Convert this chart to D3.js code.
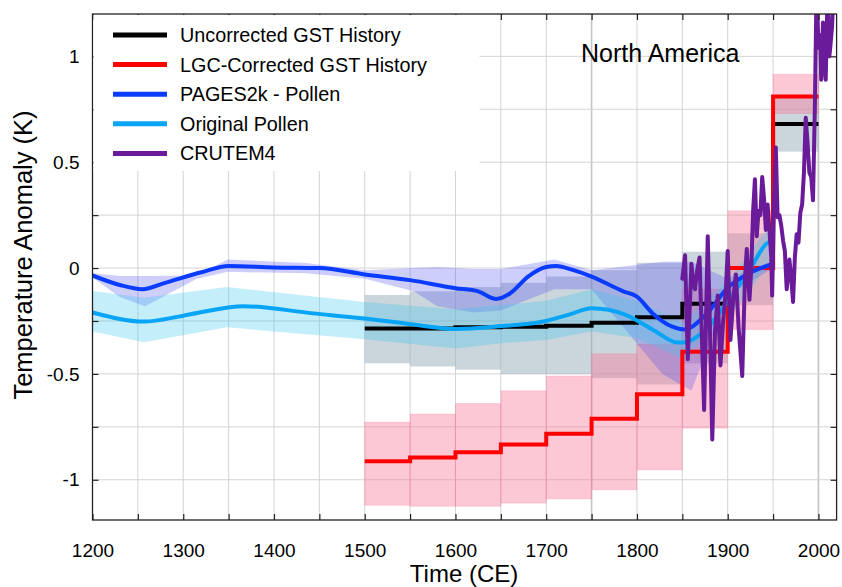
<!DOCTYPE html>
<html>
<head>
<meta charset="utf-8">
<script src="https://cdn.jsdelivr.net/npm/d3@7"></script>
<style>
  body { margin: 0; background: #fff; }
  svg { font-family: "Liberation Sans", Arial, Helvetica, sans-serif; }
  .grid line { stroke: #d4d4d4; stroke-width: 1; }
  .axis text { font-size: 19px; fill: #000; }
  .axis line { stroke: #222; stroke-width: 1.2; }
</style>
</head>
<body>
<div id="chart"></div>
<script>
// ---------------- data ----------------
// 50-year GST history steps
let periodStart = [1500, 1550, 1600, 1650, 1700, 1750, 1800, 1850, 1900, 1950];
let uncorrected = [-0.285, -0.285, -0.28, -0.277, -0.272, -0.258, -0.232, -0.168, 0.0, 0.68];
let uncorrectedLo = [-0.45, -0.465, -0.48, -0.5, -0.5, -0.52, -0.55, -0.45, -0.175, 0.55];
let uncorrectedHi = [-0.127, -0.11, -0.09, -0.07, -0.04, -0.01, 0.025, 0.077, 0.164, 0.816];
let corrected = [-0.913, -0.895, -0.87, -0.833, -0.783, -0.712, -0.596, -0.395, 0.0, 0.81];
let correctedLo = [-1.12, -1.125, -1.125, -1.11, -1.09, -1.047, -0.953, -0.756, -0.29, 0.73];
let correctedHi = [-0.728, -0.69, -0.64, -0.58, -0.51, -0.405, -0.36, -0.1, 0.27, 0.915];

// PAGES2k pollen reconstruction
let pagesYears = [1200, 1230, 1255, 1280, 1320, 1350, 1400, 1450, 1500, 1550, 1600, 1625, 1645, 1660, 1680, 1700, 1711, 1730, 1750, 1785, 1800, 1817, 1839, 1852, 1876, 1901, 1920, 1950];
let pagesValues = [-0.035, -0.08, -0.1, -0.07, -0.02, 0.01, 0.003, 0.0, -0.03, -0.057, -0.095, -0.11, -0.146, -0.12, -0.04, 0.005, 0.01, -0.01, -0.04, -0.11, -0.135, -0.213, -0.277, -0.29, -0.22, -0.088, -0.033, 0.02];
let pagesBandYears = [1200, 1230, 1258, 1315, 1349, 1435, 1500, 1554, 1580, 1620, 1650, 1709, 1750, 1828, 1860, 1900, 1950];
let pagesBandLo = [-0.045, -0.137, -0.18, -0.05, -0.018, -0.025, -0.05, -0.11, -0.18, -0.21, -0.2, -0.1, -0.1, -0.5, -0.58, -0.13, 0.0];
let pagesBandHi = [-0.025, -0.038, -0.038, -0.035, 0.04, 0.024, -0.01, 0.0, 0.005, -0.005, -0.005, 0.04, -0.01, 0.03, 0.03, -0.05, 0.035];

// original pollen reconstruction
let pollenYears = [1200, 1257, 1300, 1348, 1366, 1443, 1497, 1549, 1601, 1651, 1694, 1725, 1750, 1787, 1817, 1845, 1853, 1876, 1901, 1924, 1943, 1950];
let pollenValues = [-0.21, -0.253, -0.225, -0.187, -0.18, -0.214, -0.237, -0.264, -0.288, -0.274, -0.255, -0.22, -0.19, -0.22, -0.29, -0.352, -0.35, -0.29, -0.15, -0.01, 0.116, 0.13];
let pollenBandYears = [1200, 1257, 1348, 1500, 1600, 1650, 1700, 1750, 1800, 1850, 1900, 1950];
let pollenBandLo = [-0.3, -0.35, -0.28, -0.336, -0.38, -0.355, -0.34, -0.3, -0.33, -0.43, -0.24, 0.04];
let pollenBandHi = [-0.108, -0.14, -0.09, -0.16, -0.195, -0.175, -0.155, -0.1, -0.155, -0.26, -0.06, 0.22];

// CRUTEM4 instrumental record
let crutemYears = [1850, 1853, 1856, 1860, 1862, 1864, 1866, 1869, 1871, 1874, 1878, 1880, 1883, 1886, 1889, 1892, 1895, 1898, 1900, 1903, 1906, 1909, 1912, 1916, 1919, 1921, 1924, 1926, 1928, 1930, 1932, 1934, 1936, 1938, 1940, 1942, 1944, 1946, 1948, 1949, 1951, 1953, 1955, 1957, 1959, 1961, 1963, 1965, 1968, 1970, 1972, 1974, 1976, 1978, 1980, 1982, 1984, 1986, 1988, 1990, 1992, 1994, 1996, 1998, 2000, 2002, 2003, 2005, 2006, 2008, 2010, 2012, 2013, 2015, 2016];
let crutemValues = [-0.05, 0.06, -0.43, 0.02, -0.08, -0.1, -0.02, 0.05, -0.25, -0.67, 0.15, -0.2, -0.81, -0.3, -0.13, -0.46, -0.25, -0.1, 0.08, -0.34, -0.15, -0.03, -0.28, -0.51, -0.05, 0.09, -0.15, 0.0, 0.27, 0.42, 0.15, 0.27, 0.25, 0.43, 0.33, 0.18, 0.3, 0.18, 0.05, -0.13, 0.3, 0.57, 0.24, 0.25, 0.2, 0.13, 0.08, -0.1, 0.04, -0.05, -0.16, 0.05, 0.16, 0.12, 0.26, 0.3, 0.45, 0.71, 0.59, 0.45, 0.43, 0.32, 0.75, 1.35, 1.04, 1.1, 0.89, 1.16, 1.0, 0.89, 1.3, 1.0, 1.04, 1.14, 1.25];

let xTicks = [1200, 1300, 1400, 1500, 1600, 1700, 1800, 1900, 2000];
let yTicks = [-1, -0.5, 0, 0.5, 1];

let legendNames = ["Uncorrected GST History", "LGC-Corrected GST History", "PAGES2k - Pollen", "Original Pollen", "CRUTEM4"];
let legendColors = ["#000000", "#ff0000", "#0a3cff", "#08a4f6", "#6a1b9a"];

// ---------------- layout ----------------
let svgWidth = 842;
let svgHeight = 587;

let margin = { top: 14, right: 5.4, bottom: 67, left: 92.5 };
let width = svgWidth - margin.left - margin.right;
let height = svgHeight - margin.top - margin.bottom;

let svg = d3.select("#chart")
  .append("svg")
  .attr("width", svgWidth)
  .attr("height", svgHeight);

let chartGroup = svg.append("g")
  .attr("transform", `translate(${margin.left}, ${margin.top})`);

let x = d3.scaleLinear().domain([1200, 2020]).range([0, width]);
let y = d3.scaleLinear().domain([-1.19, 1.2]).range([height, 0]);

svg.append("defs").append("clipPath")
  .attr("id", "plotClip")
  .append("rect")
  .attr("width", width)
  .attr("height", height);

// grid lines every 50 years and every 0.25 K
let minorX = d3.range(1250, 2001, 50);
let minorY = d3.range(-1, 1.01, 0.25);

let grid = chartGroup.append("g").attr("class", "grid");
grid.selectAll(".gx")
  .data(minorX)
  .enter()
  .append("line")
  .attr("x1", d => x(d)).attr("x2", d => x(d))
  .attr("y1", 0).attr("y2", height)
  .style("stroke", d => (d === 1750 || d === 2000) ? "#c4c4c4" : null)
  .style("stroke-width", d => (d === 1750 || d === 2000) ? 1.6 : null);
grid.selectAll(".gy")
  .data(minorY)
  .enter()
  .append("line")
  .attr("x1", 0).attr("x2", width)
  .attr("y1", d => y(d)).attr("y2", d => y(d));

let plot = chartGroup.append("g").attr("clip-path", "url(#plotClip)");

// uncertainty boxes for the step histories
plot.selectAll(".greyBox")
  .data(periodStart)
  .enter()
  .append("rect")
  .attr("x", d => x(d))
  .attr("width", d => x(d + 50) - x(d))
  .attr("y", (d, i) => y(uncorrectedHi[i]))
  .attr("height", (d, i) => y(uncorrectedLo[i]) - y(uncorrectedHi[i]))
  .attr("fill", "#97abb9")
  .attr("fill-opacity", 0.5);

plot.selectAll(".pinkBox")
  .data(periodStart)
  .enter()
  .append("rect")
  .attr("x", d => x(d))
  .attr("width", d => x(d + 50) - x(d))
  .attr("y", (d, i) => y(correctedHi[i]))
  .attr("height", (d, i) => y(correctedLo[i]) - y(correctedHi[i]))
  .attr("fill", "#fa7596")
  .attr("fill-opacity", 0.4)
  .attr("stroke", "#fa7596")
  .attr("stroke-opacity", 0.25)
  .attr("stroke-width", 1);

// reconstruction bands
let bandArea = d3.area()
  .x(d => x(d[0]))
  .y0(d => y(d[1]))
  .y1(d => y(d[2]));

plot.append("path")
  .datum(pagesBandYears.map((d, i) => [d, pagesBandLo[i], pagesBandHi[i]]))
  .attr("d", bandArea)
  .attr("fill", "#3c3cf0")
  .attr("fill-opacity", 0.25);

plot.append("path")
  .datum(pollenBandYears.map((d, i) => [d, pollenBandLo[i], pollenBandHi[i]]))
  .attr("d", bandArea)
  .attr("fill", "#3ac6ee")
  .attr("fill-opacity", 0.3);

// step lines
let stepLine = d3.line()
  .x(d => x(d[0]))
  .y(d => y(d[1]))
  .curve(d3.curveStepAfter);

function stepData(values) {
  let pts = periodStart.map((d, i) => [d, values[i]]);
  pts.push([periodStart[periodStart.length - 1] + 50, values[values.length - 1]]);
  return pts;
}

plot.append("path")
  .datum(stepData(uncorrected))
  .attr("d", stepLine)
  .attr("fill", "none")
  .attr("stroke", legendColors[0])
  .attr("stroke-width", 4);

plot.append("path")
  .datum(stepData(corrected))
  .attr("d", stepLine)
  .attr("fill", "none")
  .attr("stroke", legendColors[1])
  .attr("stroke-width", 4);

// smooth reconstruction lines
let smoothLine = d3.line()
  .x(d => x(d[0]))
  .y(d => y(d[1]))
  .curve(d3.curveMonotoneX);

plot.append("path")
  .datum(pollenYears.map((d, i) => [d, pollenValues[i]]))
  .attr("d", smoothLine)
  .attr("fill", "none")
  .attr("stroke", legendColors[3])
  .attr("stroke-width", 4);

plot.append("path")
  .datum(pagesYears.map((d, i) => [d, pagesValues[i]]))
  .attr("d", smoothLine)
  .attr("fill", "none")
  .attr("stroke", legendColors[2])
  .attr("stroke-width", 4);

// instrumental record
plot.append("path")
  .datum(crutemYears.map((d, i) => [d, crutemValues[i]]))
  .attr("d", d3.line().x(d => x(d[0])).y(d => y(d[1])))
  .attr("fill", "none")
  .attr("stroke", legendColors[4])
  .attr("stroke-width", 4)
  .attr("stroke-linejoin", "round")
  .attr("stroke-linecap", "round");

// axes, ticks pointing inward on every side
let tickYears = d3.range(1200, 2001, 50);

chartGroup.append("g")
  .attr("class", "axis")
  .attr("transform", `translate(0, ${height})`)
  .call(d3.axisBottom(x).tickValues(tickYears).tickSizeInner(-6).tickSizeOuter(0).tickPadding(24)
    .tickFormat(d => xTicks.includes(d) ? d : ""))
  .call(g => g.select(".domain").remove());

chartGroup.append("g")
  .attr("class", "axis")
  .call(d3.axisTop(x).tickValues(tickYears).tickSizeInner(-6).tickSizeOuter(0).tickFormat(""))
  .call(g => g.select(".domain").remove());

chartGroup.append("g")
  .attr("class", "axis")
  .call(d3.axisLeft(y).tickValues(minorY).tickSizeInner(-6).tickSizeOuter(0).tickPadding(13)
    .tickFormat(d => yTicks.includes(d) ? String(d) : ""))
  .call(g => g.select(".domain").remove());

chartGroup.append("g")
  .attr("class", "axis")
  .attr("transform", `translate(${width}, 0)`)
  .call(d3.axisRight(y).tickValues(minorY).tickSizeInner(-6).tickSizeOuter(0).tickFormat(""))
  .call(g => g.select(".domain").remove());

chartGroup.append("rect")
  .attr("width", width)
  .attr("height", height)
  .attr("fill", "none")
  .attr("stroke", "#222")
  .attr("stroke-width", 1.3);

// axis titles
svg.append("text")
  .attr("x", 464)
  .attr("y", 582)
  .attr("text-anchor", "middle")
  .style("font-size", "24px")
  .text("Time (CE)");

svg.append("text")
  .attr("transform", "rotate(-90)")
  .attr("x", -255)
  .attr("y", 32)
  .attr("text-anchor", "middle")
  .style("font-size", "25.5px")
  .text("Temperature Anomaly (K)");

svg.append("text")
  .attr("x", 581)
  .attr("y", 62)
  .style("font-size", "25px")
  .text("North America");

// legend, on a white panel that hides the grid
let legend = svg.append("g");
legend.append("rect")
  .attr("x", margin.left + 1)
  .attr("y", margin.top + 1)
  .attr("width", 386)
  .attr("height", 156)
  .attr("fill", "#fff");

legendNames.forEach(function(name, i) {
  let ly = 35 + i * 29.6;
  legend.append("line")
    .attr("x1", 113).attr("x2", 167)
    .attr("y1", ly).attr("y2", ly)
    .attr("stroke", legendColors[i])
    .attr("stroke-width", 5);
  legend.append("text")
    .attr("x", 180)
    .attr("y", ly + 7)
    .style("font-size", "19.8px")
    .text(name);
});
</script>
</body>
</html>
